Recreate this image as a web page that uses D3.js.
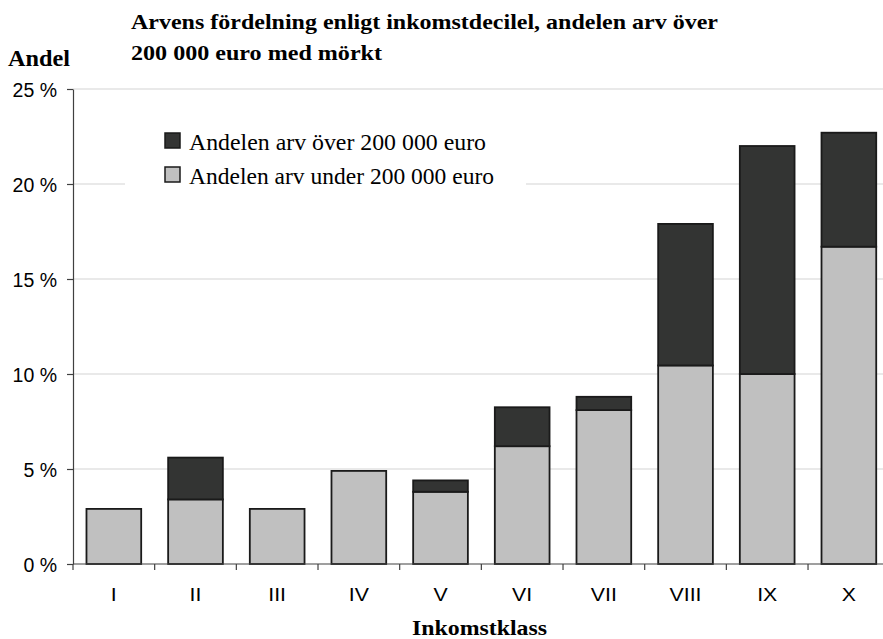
<!DOCTYPE html>
<html>
<head>
<meta charset="utf-8">
<script src="https://cdn.jsdelivr.net/npm/d3@7"></script>
<style>
  body { margin: 0; background: #fff; }
  svg { display: block; }
</style>
</head>
<body>
<svg id="chart" width="883" height="639"></svg>
<script>
const categories = ["I","II","III","IV","V","VI","VII","VIII","IX","X"];
const under200k = [2.9, 3.4, 2.9, 4.9, 3.8, 6.2, 8.1, 10.45, 10.0, 16.7];
const over200k  = [0.0, 2.2, 0.0, 0.0, 0.6, 2.05, 0.7, 7.45, 12.0, 6.0];
const yTicks = [0, 5, 10, 15, 20, 25];
const seriesNames = ["Andelen arv över 200 000 euro", "Andelen arv under 200 000 euro"];
const titleLines = ["Arvens fördelning enligt inkomstdecilel, andelen arv över", "200 000 euro med mörkt"];
const yTitle = "Andel";
const xTitle = "Inkomstklass";

(function () {
const svg = d3.select("#chart");
const pLeft = 73, pRight = 889.7, pTop = 89, pBottom = 564;

const x = d3.scaleBand().domain(categories).range([pLeft, pRight]).paddingInner(0.33).paddingOuter(0.165);
const y = d3.scaleLinear().domain([0, 25]).range([pBottom, pTop]);

const darkFill = "#333433", lightFill = "#c0c0c0";

// gridlines
svg.append("g").selectAll("line").data(yTicks.filter(d => d > 0)).join("line")
  .attr("x1", pLeft).attr("x2", 883)
  .attr("y1", d => y(d)).attr("y2", d => y(d))
  .attr("stroke", "#d4d4d4").attr("stroke-width", 1.2);

// legend background (covers gridline)
svg.append("rect").attr("x", 125).attr("y", 118).attr("width", 401).attr("height", 78).attr("fill", "#fff");

// y axis
const yAxis = svg.append("g").attr("transform", `translate(${pLeft},0)`)
  .call(d3.axisLeft(y).tickValues(yTicks).tickSize(6).tickSizeOuter(0).tickFormat(d => d + " %"));
yAxis.select(".domain").attr("stroke", "#404040").attr("stroke-width", 1.2);
yAxis.selectAll(".tick line").attr("stroke", "#404040").attr("stroke-width", 1.2);
yAxis.selectAll(".tick text").attr("x", -16).attr("dy", "0.36em")
  .attr("font-family", "Liberation Sans, Arial, sans-serif").attr("font-size", 19.5).attr("fill", "#000");

// bars
const data = categories.map((c, i) => ({ c, under: under200k[i], over: over200k[i] }));
const barG = svg.append("g");
data.forEach(d => {
  barG.append("rect")
    .attr("x", x(d.c)).attr("width", x.bandwidth())
    .attr("y", y(d.under)).attr("height", y(0) - y(d.under))
    .attr("fill", lightFill).attr("stroke", "#1a1a1a").attr("stroke-width", 1.8);
  if (d.over > 0) {
    barG.append("rect")
      .attr("x", x(d.c)).attr("width", x.bandwidth())
      .attr("y", y(d.under + d.over)).attr("height", y(d.under) - y(d.under + d.over))
      .attr("fill", darkFill).attr("stroke", "#1a1a1a").attr("stroke-width", 1.8);
  }
});

// x axis
const step = x.step();
const xg = svg.append("g");
xg.append("line").attr("x1", pLeft).attr("x2", 883).attr("y1", pBottom).attr("y2", pBottom)
  .attr("stroke", "#404040").attr("stroke-width", 1.2);
xg.selectAll("line.tk").data(d3.range(0, 11)).join("line").attr("class", "tk")
  .attr("x1", i => pLeft + i * step).attr("x2", i => pLeft + i * step)
  .attr("y1", pBottom).attr("y2", pBottom + 6)
  .attr("stroke", "#404040").attr("stroke-width", 1.2);
xg.selectAll("text").data(categories).join("text")
  .attr("x", d => x(d) + x.bandwidth() / 2).attr("y", 601)
  .attr("text-anchor", "middle")
  .attr("font-family", "Liberation Sans, Arial, sans-serif").attr("font-size", 19).attr("fill", "#000")
  .text(d => d)
  .each(function () {
    const w = this.getComputedTextLength();
    d3.select(this).attr("textLength", w * 1.12).attr("lengthAdjust", "spacingAndGlyphs");
  });

// titles
const serif = "Liberation Serif, Times New Roman, serif";
svg.append("text").attr("x", 131).attr("y", 29).attr("font-family", serif).attr("font-weight", "bold")
  .attr("font-size", 21.5).attr("textLength", 587).attr("lengthAdjust", "spacingAndGlyphs").text(titleLines[0]);
svg.append("text").attr("x", 131).attr("y", 60).attr("font-family", serif).attr("font-weight", "bold")
  .attr("font-size", 21.5).attr("textLength", 251).attr("lengthAdjust", "spacingAndGlyphs").text(titleLines[1]);
svg.append("text").attr("x", 8).attr("y", 66).attr("font-family", serif).attr("font-weight", "bold")
  .attr("font-size", 22.5).attr("textLength", 62).attr("lengthAdjust", "spacingAndGlyphs").text(yTitle);
svg.append("text").attr("x", 412).attr("y", 634.5).attr("font-family", serif).attr("font-weight", "bold")
  .attr("font-size", 22).attr("textLength", 135).attr("lengthAdjust", "spacingAndGlyphs").text(xTitle);

// legend
const legendFills = [darkFill, lightFill];
const legendWidths = [297, 305];
seriesNames.forEach((name, i) => {
  svg.append("rect").attr("x", 165).attr("y", 133 + i * 34).attr("width", 15).attr("height", 15)
    .attr("fill", legendFills[i]).attr("stroke", "#1a1a1a").attr("stroke-width", 1.5);
  svg.append("text").attr("x", 189).attr("y", 150 + i * 34)
    .attr("font-family", serif).attr("font-size", 22.5)
    .attr("textLength", legendWidths[i]).attr("lengthAdjust", "spacingAndGlyphs").text(name);
});
})();
</script>
</body>
</html>
